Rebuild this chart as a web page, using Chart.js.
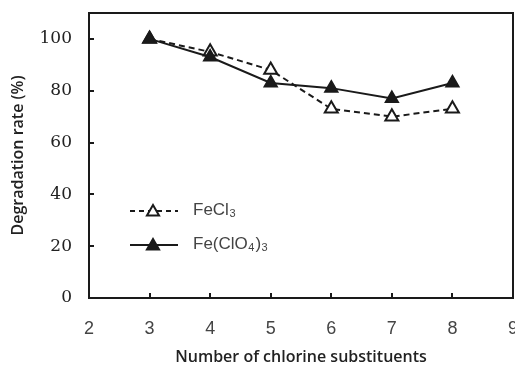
<!DOCTYPE html>
<html>
<head>
<meta charset="utf-8">
<script src="https://cdn.jsdelivr.net/npm/chart.js@4/dist/chart.umd.min.js"></script>
<style>
html,body{margin:0;padding:0;background:#fff;}
#wrap{width:515px;height:372px;}
</style>
</head>
<body>
<div id="wrap"><canvas id="c" width="515" height="372"></canvas></div>
<script>
// Data
const chlorineCounts = [3, 4, 5, 6, 7, 8];
const fecl3Values = [100, 95, 88, 73, 70, 73];
const feclo4Values = [100, 93, 83, 81, 77, 83];
const xTickValues = [2, 3, 4, 5, 6, 7, 8, 9];
const yTickValues = [0, 20, 40, 60, 80, 100];
const seriesNames = ['FeCl3', 'Fe(ClO4)3'];

const INK = '#1a1a1a';

function tri(ctx, x, y, r, fill) {
  ctx.beginPath();
  let a = 0;
  ctx.moveTo(x + Math.sin(a) * r, y - Math.cos(a) * r);
  a += 2 * Math.PI / 3;
  ctx.lineTo(x + Math.sin(a) * r, y - Math.cos(a) * r);
  a += 2 * Math.PI / 3;
  ctx.lineTo(x + Math.sin(a) * r, y - Math.cos(a) * r);
  ctx.closePath();
  ctx.fillStyle = fill ? INK : '#fff';
  ctx.fill();
  ctx.lineWidth = 2;
  ctx.strokeStyle = INK;
  ctx.stroke();
}

function drawSubText(ctx, parts, x, y) {
  let cx = x;
  for (const [t, sub] of parts) {
    ctx.font = sub ? '300 11px "Liberation Sans Narrow", "Liberation Sans", sans-serif'
                   : '300 17px "Liberation Sans Narrow", "Liberation Sans", sans-serif';
    ctx.fillText(t, cx, sub ? y + 4 : y);
    cx += ctx.measureText(t).width + (sub ? 1 : 0.5);
  }
}

function noPad(s) {
  s.paddingLeft = 0; s.paddingRight = 0; s.paddingTop = 0; s.paddingBottom = 0;
}

const framePlugin = {
  id: 'frame',
  afterDraw(chart) {
    const ctx = chart.ctx;
    const a = chart.chartArea;
    const xs = chart.scales.x, ys = chart.scales.y;
    ctx.save();
    ctx.strokeStyle = INK;
    ctx.lineWidth = 2;
    ctx.beginPath();
    xs.ticks.forEach(t => {
      if (t.value <= xs.min || t.value >= xs.max) return;
      const px = Math.round(xs.getPixelForValue(t.value));
      ctx.moveTo(px, a.bottom);
      ctx.lineTo(px, a.bottom - 5);
    });
    ys.ticks.forEach(t => {
      if (t.value <= ys.min || t.value >= ys.max) return;
      const py = Math.round(ys.getPixelForValue(t.value));
      ctx.moveTo(a.left, py);
      ctx.lineTo(a.left + 5, py);
    });
    ctx.stroke();
    ctx.lineWidth = 2;
    ctx.strokeRect(a.left, a.top, a.right - a.left, a.bottom - a.top);

    // legend
    const lx0 = 130, lx1 = 178, mx = 153;
    const rows = [
      {y: 211, dash: [5, 4], fill: false, parts: [['FeCl', false], ['3', true]]},
      {y: 245, dash: [], fill: true, parts: [['Fe(ClO', false], ['4', true], [')', false], ['3', true]]}
    ];
    rows.forEach(r => {
      ctx.save();
      ctx.setLineDash(r.dash);
      ctx.lineWidth = 2;
      ctx.strokeStyle = INK;
      ctx.beginPath();
      ctx.moveTo(lx0, r.y);
      ctx.lineTo(lx1, r.y);
      ctx.stroke();
      ctx.restore();
      tri(ctx, mx, r.y + 1, 7, r.fill);
      ctx.fillStyle = '#444';
      ctx.textBaseline = 'middle';
      ctx.textAlign = 'left';
      drawSubText(ctx, r.parts, 193, r.y - 1);
    });
    ctx.restore();
  }
};

new Chart(document.getElementById('c'), {
  type: 'line',
  data: {
    datasets: [
      {
        label: seriesNames[1],
        data: chlorineCounts.map((x, i) => ({x, y: feclo4Values[i]})),
        borderColor: INK,
        borderWidth: 2,
        pointStyle: 'triangle',
        pointRadius: 7.5,
        pointBackgroundColor: INK,
        pointBorderColor: INK,
        pointBorderWidth: 1.5,
        tension: 0,
        order: 0
      },
      {
        label: seriesNames[0],
        data: chlorineCounts.map((x, i) => ({x, y: fecl3Values[i]})),
        borderColor: INK,
        borderWidth: 2,
        borderDash: [6, 4],
        pointStyle: 'triangle',
        pointRadius: 7.5,
        pointBackgroundColor: '#fff',
        pointBorderColor: INK,
        pointBorderWidth: 2,
        tension: 0,
        order: 1
      }
    ]
  },
  options: {
    responsive: false,
    animation: false,
    devicePixelRatio: 1,
    layout: {autoPadding: false, padding: {top: 13, right: 2, left: 0, bottom: 0}},
    plugins: {legend: {display: false}, tooltip: {enabled: false}},
    scales: {
      x: {
        type: 'linear',
        min: 2, max: 9,
        afterBuildTicks(s) { s.ticks = xTickValues.map(v => ({value: v})); },
        afterFit(s) { s.height = 74; noPad(s); },
        grid: {display: false, drawTicks: false},
        border: {display: false},
        ticks: {
          padding: 20,
          color: '#444',
          font: {family: '"Liberation Sans Narrow", "Liberation Sans", sans-serif', size: 18, weight: '300'}
        },
        title: {
          display: true,
          text: 'Number of chlorine substituents',
          color: '#222',
          font: {family: '"Open Sans", sans-serif', size: 16, weight: '600'},
          padding: {top: 4, bottom: 5}
        }
      },
      y: {
        min: 0, max: 110,
        afterBuildTicks(s) { s.ticks = yTickValues.map(v => ({value: v})); },
        afterFit(s) { s.width = 89; noPad(s); },
        grid: {display: false, drawTicks: false},
        border: {display: false},
        ticks: {
          padding: 17,
          color: '#222',
          font: {family: '"DejaVu Serif", serif', size: 17}
        },
        title: {
          display: true,
          text: 'Degradation rate (%)',
          color: '#222',
          font: {family: '"Open Sans", sans-serif', size: 16, weight: '600'},
          padding: {top: 9, bottom: 0}
        }
      }
    }
  },
  plugins: [framePlugin]
});
</script>
</body>
</html>
